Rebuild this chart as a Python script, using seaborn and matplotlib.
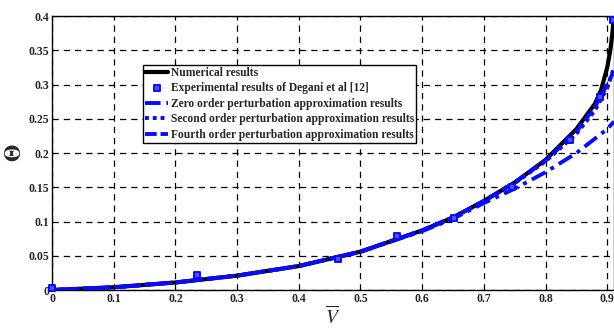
import matplotlib
matplotlib.use("Agg")
import matplotlib.pyplot as plt
import seaborn as sns
import pandas as pd
import numpy as np

# Numerical results
num_x = [0, 0.1, 0.2, 0.3, 0.4, 0.5, 0.6, 0.65, 0.7, 0.75, 0.8, 0.85, 0.88, 0.89, 0.9, 0.905, 0.908, 0.911]
num_y = [0, 0.004, 0.011, 0.021, 0.035, 0.056, 0.087, 0.106, 0.130, 0.157, 0.190, 0.235, 0.272, 0.292, 0.325, 0.350, 0.372, 0.400]

# Experimental results of Degani et al [12]
exp_x = [0.0, 0.235, 0.464, 0.56, 0.652, 0.745, 0.84, 0.888, 0.91]
exp_y = [0.003, 0.022, 0.046, 0.079, 0.105, 0.150, 0.219, 0.282, 0.395]

# Zero order perturbation approximation
zero_x = [0, 0.1, 0.2, 0.3, 0.4, 0.5, 0.6, 0.65, 0.7, 0.75, 0.8, 0.85, 0.9, 0.911]
zero_y = [0, 0.004, 0.011, 0.021, 0.035, 0.056, 0.086, 0.104, 0.127, 0.148, 0.172, 0.200, 0.235, 0.246]

# Second order perturbation approximation
sec_x = [0, 0.1, 0.2, 0.3, 0.4, 0.5, 0.6, 0.65, 0.7, 0.75, 0.8, 0.85, 0.88, 0.9, 0.911]
sec_y = [0, 0.004, 0.011, 0.021, 0.035, 0.056, 0.087, 0.106, 0.130, 0.156, 0.188, 0.228, 0.262, 0.295, 0.325]

# Fourth order perturbation approximation
four_x = [0, 0.1, 0.2, 0.3, 0.4, 0.5, 0.6, 0.65, 0.7, 0.75, 0.8, 0.85, 0.88, 0.9, 0.911]
four_y = [0, 0.004, 0.011, 0.021, 0.035, 0.056, 0.087, 0.106, 0.130, 0.157, 0.189, 0.231, 0.267, 0.300, 0.320]

x_ticks = [0, 0.1, 0.2, 0.3, 0.4, 0.5, 0.6, 0.7, 0.8, 0.9]
x_ticklabels = ["0", "0.1", "0.2", "0.3", "0.4", "0.5", "0.6", "0.7", "0.8", "0.9"]
y_ticks = [0, 0.05, 0.1, 0.15, 0.2, 0.25, 0.3, 0.35, 0.4]
y_ticklabels = ["0", "0.05", "0.1", "0.15", "0.2", "0.25", "0.3", "0.35", "0.4"]

labels = ["Numerical results",
          "Experimental results of Degani et al [12]",
          "Zero order perturbation approximation results",
          "Second order perturbation approximation results",
          "Fourth order perturbation approximation results"]

sns.set_theme(style="white")
plt.rcParams['font.family'] = ['Liberation Serif', 'DejaVu Serif']
plt.rcParams['mathtext.fontset'] = 'stix'

fig = plt.figure(figsize=(6.14, 3.29), dpi=100)
ax = fig.add_axes([0.0847, 0.1185, 0.9153, 0.8325])

blue = "#0a0aff"
df_num = pd.DataFrame({"x": num_x, "y": num_y})
df_exp = pd.DataFrame({"x": exp_x, "y": exp_y})
df_zero = pd.DataFrame({"x": zero_x, "y": zero_y})
df_sec = pd.DataFrame({"x": sec_x, "y": sec_y})
df_four = pd.DataFrame({"x": four_x, "y": four_y})

sns.lineplot(data=df_num, x="x", y="y", ax=ax, color="black", lw=3, label=labels[0], zorder=3)
sns.lineplot(data=df_zero, x="x", y="y", ax=ax, color=blue, lw=2.8, label=labels[2], zorder=4)
ax.lines[-1].set_linestyle((0, (4, 1.5, 1, 1.5)))
sns.lineplot(data=df_sec, x="x", y="y", ax=ax, color=blue, lw=2.8, label=labels[3], zorder=4)
ax.lines[-1].set_linestyle((0, (1, 1)))
sns.lineplot(data=df_four, x="x", y="y", ax=ax, color=blue, lw=2.8, label=labels[4], zorder=4)
ax.lines[-1].set_linestyle((0, (3, 1)))
sns.scatterplot(data=df_exp, x="x", y="y", ax=ax, marker="s", s=20, color="#5050ff",
                edgecolor=blue, linewidth=1.4, label=labels[1], zorder=5, clip_on=False)

ax.set_xlim(0, 0.911)
ax.set_ylim(0, 0.4)
ax.set_xticks(x_ticks)
ax.set_xticklabels(x_ticklabels, fontsize=8.5, fontweight="bold")
ax.set_yticks(y_ticks)
ax.set_yticklabels(y_ticklabels, fontsize=8.5, fontweight="bold")
ax.tick_params(axis="both", direction="in", length=3, pad=2, color="black")
ax.grid(True, color="black", linestyle=(0, (5, 4)), linewidth=0.9)
for s in ax.spines.values():
    s.set_color("black")
    s.set_linewidth(1.0)

ax.set_xlabel(r"$\overline{V}$", fontsize=14, labelpad=0)
ax.set_ylabel(r"$\mathbf{\Theta}$", fontsize=16, rotation=90, labelpad=2)

handles, labs = ax.get_legend_handles_labels()
order = [labs.index(l) for l in labels]
leg = ax.legend([handles[i] for i in order], [labs[i] for i in order],
                loc="upper left", bbox_to_anchor=(0.162, 0.823),
                prop={"family": "Liberation Serif", "weight": "bold", "size": 8.3},
                frameon=True, fancybox=False, edgecolor="black", framealpha=1,
                handlelength=2.0, handletextpad=0.2, borderpad=0.2, labelspacing=0.3,
                borderaxespad=0)
leg.get_frame().set_linewidth(1.0)

fig.savefig("out.png", dpi=100)
